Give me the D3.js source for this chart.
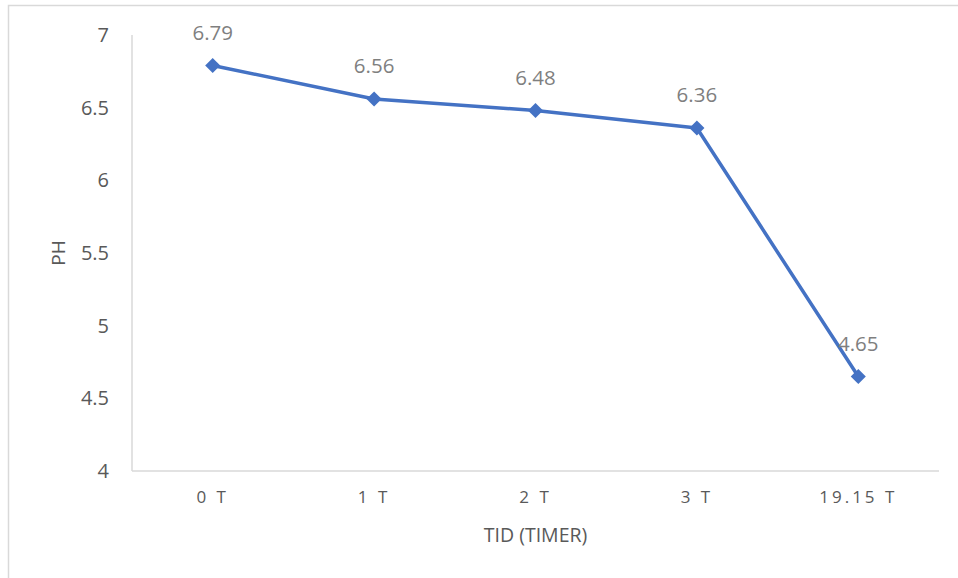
<!DOCTYPE html>
<html>
<head>
<meta charset="utf-8">
<script src="https://cdn.jsdelivr.net/npm/d3@7"></script>
<style>
  body { margin: 0; background: #fff; }
  text { font-family: "Open Sans", "Noto Sans", sans-serif; }
</style>
</head>
<body>
<script>
const width = 958;
const height = 578;

// data
const categories = ["0 T", "1 T", "2 T", "3 T", "19.15 T"];
const phValues = [6.79, 6.56, 6.48, 6.36, 4.65];
const yTicks = [4, 4.5, 5, 5.5, 6, 6.5, 7];

const margin = {top: 35, right: 19, bottom: 107, left: 132};

const svg = d3.select("body")
    .append("svg")
    .attr("width", width)
    .attr("height", height);

// outer chart border (only left/top visible in frame)
svg.append("rect")
    .attr("x", 8.5)
    .attr("y", 5.5)
    .attr("width", width + 20)
    .attr("height", height + 20)
    .attr("fill", "none")
    .attr("stroke", "#d9d9d9")
    .attr("stroke-width", 1.5);

const x = d3.scaleBand()
    .domain(categories)
    .range([margin.left, width - margin.right]);

const y = d3.scaleLinear()
    .domain([4, 7])
    .range([height - margin.bottom, margin.top]);

// axis lines
svg.append("line")
    .attr("x1", margin.left).attr("x2", margin.left)
    .attr("y1", y(7)).attr("y2", y(4))
    .attr("stroke", "#d9d9d9").attr("stroke-width", 1.5);

svg.append("line")
    .attr("x1", margin.left).attr("x2", width - margin.right)
    .attr("y1", y(4)).attr("y2", y(4))
    .attr("stroke", "#d9d9d9").attr("stroke-width", 1.5);

// y tick labels
svg.selectAll(".ytick")
    .data(yTicks)
    .enter()
    .append("text")
    .attr("class", "ytick")
    .attr("x", 109)
    .attr("y", d => y(d))
    .attr("dy", "0.35em")
    .attr("text-anchor", "end")
    .attr("font-size", 20)
    .attr("fill", "#595959")
    .text(d => d);

// x tick labels
svg.selectAll(".xtick")
    .data(categories)
    .enter()
    .append("text")
    .attr("class", "xtick")
    .attr("x", d => x(d) + x.bandwidth() / 2)
    .attr("y", 497)
    .attr("dy", "0.35em")
    .attr("text-anchor", "middle")
    .attr("font-size", 17)
    .attr("letter-spacing", "3px")
    .attr("fill", "#595959")
    .text(d => d);

// axis titles
svg.append("text")
    .attr("x", (margin.left + width - margin.right) / 2)
    .attr("y", 535)
    .attr("dy", "0.35em")
    .attr("text-anchor", "middle")
    .attr("font-size", 19.5)
    .attr("fill", "#595959")
    .text("TID (TIMER)");

svg.append("text")
    .attr("transform", "translate(58," + y(5.5) + ") rotate(-90)")
    .attr("dy", "0.35em")
    .attr("text-anchor", "middle")
    .attr("font-size", 19)
    .attr("fill", "#595959")
    .text("PH");

const pts = categories.map((c, i) => [x(c) + x.bandwidth() / 2, y(phValues[i])]);

svg.append("path")
    .datum(pts)
    .attr("d", d3.line())
    .attr("fill", "none")
    .attr("stroke", "#4472c4")
    .attr("stroke-width", 3.5)
    .attr("stroke-linejoin", "round");

svg.selectAll(".marker")
    .data(pts)
    .enter()
    .append("path")
    .attr("class", "marker")
    .attr("transform", d => "translate(" + d[0] + "," + d[1] + ")")
    .attr("d", d3.symbol().type(d3.symbolDiamond2).size(145))
    .attr("fill", "#4472c4");

// data labels
svg.selectAll(".label")
    .data(pts)
    .enter()
    .append("text")
    .attr("class", "label")
    .attr("x", d => d[0])
    .attr("y", d => d[1] - 33)
    .attr("dy", "0.35em")
    .attr("text-anchor", "middle")
    .attr("font-size", 20.5)
    .attr("fill", "#7f7f7f")
    .text((d, i) => phValues[i].toFixed(2));
</script>
</body>
</html>
